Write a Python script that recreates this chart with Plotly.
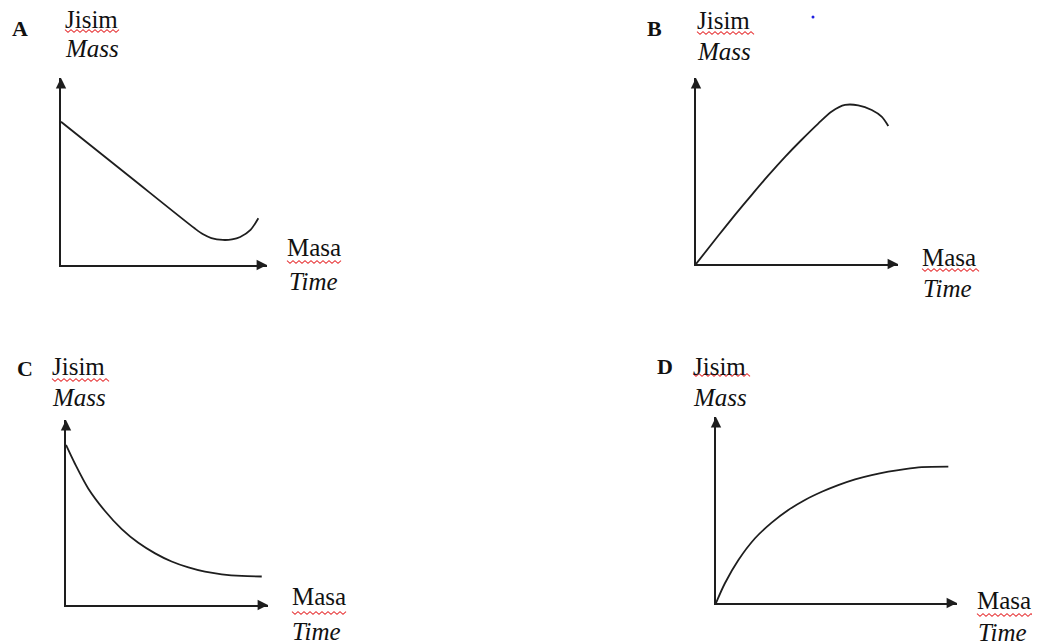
import plotly.graph_objects as go

# 页面 body 有 8px 外边距，图本身缩小并整体平移
OFF = 8
W, H = 1040 - 2 * OFF, 643 - OFF

# 四个小图的曲线读数（时间、质量，任意单位 0-10）
time_a = [0, 3.3, 6.5, 6.9, 7.3, 7.86, 8.3, 8.7, 9.2, 9.58]
mass_a = [7.66, 4.76, 1.95, 1.64, 1.44, 1.34, 1.37, 1.50, 1.88, 2.50]

time_b = [0, 1.10, 1.93, 2.76, 3.58, 4.41, 5.23, 6.05, 6.72, 7.38, 8.03, 8.70, 9.19, 9.52]
mass_b = [0, 1.52, 2.64, 3.72, 4.76, 5.76, 6.68, 7.55, 8.20, 8.55, 8.53, 8.28, 7.92, 7.42]

time_c = [0, 0.45, 1.10, 1.93, 2.76, 3.58, 4.41, 5.23, 6.06, 6.88, 7.71, 8.70, 9.69]
mass_c = [8.65, 7.62, 6.30, 5.08, 4.10, 3.36, 2.79, 2.35, 2.03, 1.80, 1.66, 1.57, 1.54]

time_d = [0, 0.37, 0.93, 1.62, 2.31, 3.00, 3.69, 4.39, 5.07, 5.77, 6.46, 7.15, 7.84, 8.54, 9.64]
mass_d = [0, 1.06, 2.31, 3.48, 4.32, 5.00, 5.54, 5.98, 6.34, 6.65, 6.88, 7.06, 7.20, 7.30, 7.33]

panel_letters = ['A', 'B', 'C', 'D']
y_title_ms = 'Jisim'
y_title_en = 'Mass'
x_title_ms = 'Masa'
x_title_en = 'Time'

curves = [(time_a, mass_a), (time_b, mass_b), (time_c, mass_c), (time_d, mass_d)]

# 每个小图的坐标原点和箭头端点（参考图像素）
panels = [
    dict(ox=61, oy=265, tx=267, ty=78),
    dict(ox=696, oy=264, tx=898, ty=78),
    dict(ox=66, oy=605, tx=268, ty=420),
    dict(ox=716, oy=603, tx=957, ty=417),
]

# 文字位置（参考图像素）：字母、Jisim、Mass、Masa、Time
text_pos = [
    dict(letter=(10, 28), jisim=(63, 19), mass=(63, 48), masa=(285, 247), time=(287, 281)),
    dict(letter=(645, 28), jisim=(695, 20), mass=(695, 51), masa=(920, 257), time=(921, 288)),
    dict(letter=(15, 368), jisim=(50, 366), mass=(50, 397), masa=(290, 596), time=(290, 631)),
    dict(letter=(655, 366), jisim=(691, 366), mass=(691, 397), masa=(975, 600), time=(976, 632)),
]
# 拼写检查的红色波浪线 (x0, x1, y)
squiggles = [
    (65, 121, 31), (287, 343, 262),
    (697, 754, 33), (922, 979, 270),
    (52, 110, 380), (292, 348, 613),
    (693, 752, 375), (977, 1034, 615),
]

LINE = '#1e1e1e'
FONT = 'Liberation Serif'

fig = go.Figure()
layout = dict(
    width=W, height=H,
    margin=dict(l=0, r=0, t=0, b=0),
    paper_bgcolor='white', plot_bgcolor='rgba(0,0,0,0)',
    showlegend=False,
)
annotations = []
shapes = []

for i, (p, (tx_, my_)) in enumerate(zip(panels, curves), start=1):
    xs = 'x' if i == 1 else f'x{i}'
    ys = 'y' if i == 1 else f'y{i}'
    ox, oy, tx, ty = p['ox'] - OFF, p['oy'] - OFF, p['tx'] - OFF, p['ty'] - OFF
    fig.add_trace(go.Scatter(
        x=tx_, y=my_, mode='lines', xaxis=xs, yaxis=ys,
        line=dict(color=LINE, width=1.8, shape='spline', smoothing=0.8),
        cliponaxis=False, hoverinfo='skip',
    ))
    axis_common = dict(range=[0, 10], showgrid=False, zeroline=False,
                       showticklabels=False, ticks='', showline=True,
                       linecolor=LINE, linewidth=1.8)
    layout['xaxis' if i == 1 else f'xaxis{i}'] = dict(
        domain=[ox / W, tx / W], anchor=ys, **axis_common)
    layout['yaxis' if i == 1 else f'yaxis{i}'] = dict(
        domain=[(H - oy) / H, (H - ty) / H], anchor=xs, **axis_common)
    # 坐标轴箭头
    for (x, y, ax, ay) in [(10, 0, 9.6, 0), (0, 10, 0, 9.6)]:
        annotations.append(dict(
            x=x, y=y, ax=ax, ay=ay, xref=xs, yref=ys, axref=xs, ayref=ys,
            text='', showarrow=True, arrowhead=2, arrowsize=1.3,
            arrowwidth=1.6, arrowcolor=LINE, standoff=0,
        ))

# 参考图像素坐标的叠加轴，用来放文字和波浪线
fig.add_trace(go.Scatter(x=[], y=[], xaxis='x5', yaxis='y5', hoverinfo='skip'))
layout['xaxis5'] = dict(domain=[0, 1], range=[OFF, OFF + W], visible=False, anchor='y5')
layout['yaxis5'] = dict(domain=[0, 1], range=[OFF + H, OFF], visible=False, anchor='x5')


def label(text, pos, size=25, bold=False, italic=False):
    t = text
    if italic:
        t = f'<i>{t}</i>'
    if bold:
        t = f'<b>{t}</b>'
    annotations.append(dict(
        x=pos[0], y=pos[1], xref='x5', yref='y5', text=t, showarrow=False,
        xanchor='left', yanchor='middle',
        font=dict(family=FONT, size=size, color='#111111'),
    ))


for letter, tp in zip(panel_letters, text_pos):
    label(letter, tp['letter'], size=22, bold=True)
    label(y_title_ms, tp['jisim'])
    label(y_title_en, tp['mass'], italic=True)
    label(x_title_ms, tp['masa'])
    label(x_title_en, tp['time'], italic=True)


def squiggle_path(x0, x1, y, step=3.0, amp=1.3):
    pts = []
    x = x0
    k = 0
    while x <= x1:
        pts.append(f'{x:.1f},{y + (amp if k % 2 else -amp):.1f}')
        x += step
        k += 1
    return 'M' + ' L'.join(pts)


for (x0, x1, y) in squiggles:
    shapes.append(dict(type='path', path=squiggle_path(x0, x1, y),
                       xref='x5', yref='y5',
                       line=dict(color='#e8383a', width=1.1)))

# 扫描件上的小蓝点
shapes.append(dict(type='circle', xref='x5', yref='y5', x0=811.5, x1=814.5,
                   y0=15.5, y1=18.5, fillcolor='#2020e0', line=dict(width=0)))

layout['annotations'] = annotations
layout['shapes'] = shapes
fig.update_layout(**layout)

fig.write_html('out.html')
